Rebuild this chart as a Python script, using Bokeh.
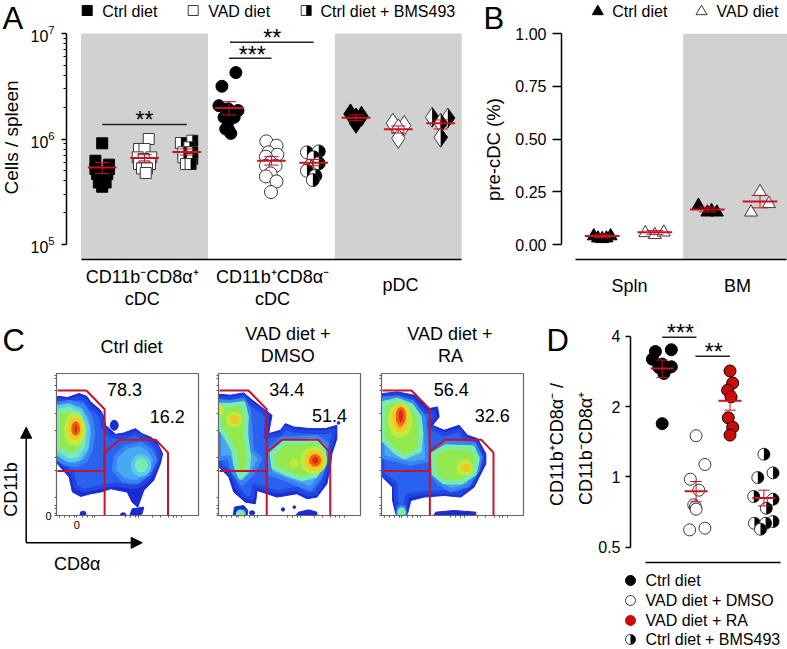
import math
import numpy as np
from bokeh.plotting import figure
from bokeh.models import Range1d, FixedTicker, LogTickFormatter, Label, Arrow, NormalHead
from bokeh.embed import file_html
from bokeh.resources import INLINE

FONT = "Liberation Sans"
GRAY = "#D1D1D1"
RED = "#C8141E"
GATE = "#C4122F"
DRED = "#CC0A0A"
OUTL = "#3A3A3A"

# ---------- Panel A data (x = group position + jitter, y in millions of cells)
A_G1_X = [1.0, .84, 1.16, .84, 1.16, 1.0, .88, 1.12, 1.0, .92, 1.08, 1.0]
A_G1_Y = [.91, .622, .571, .519, .519, .483, .465, .465, .417, .387, .387, .353]
A_G2_X = [2.10, 1.87, 2.0, 1.84, 2.16, 1.98, 1.87, 2.13, 2.0, 1.94, 2.06, 2.03]
A_G2_Y = [1.0, .804, .804, .67, .67, .646, .579, .579, .55, .526, .526, .476]
A_G3_X = [3.13, 2.86, 3.06, 2.92, 3.13, 3.02, 2.92, 3.13, 2.98, 3.09]
A_G3_Y = [.964, .916, .833, .747, .747, .67, .67, .646, .579, .579]
A_G4_X = [4.16, 3.83, 3.76, 3.98, 4.21, 3.88, 4.12, 3.98, 3.92, 3.98, 4.04]
A_G4_Y = [4.26, 3.16, 2.07, 1.93, 1.86, 1.606, 1.606, 1.47, 1.244, 1.244, 1.13]
A_G5_X = [4.88, 5.12, 4.93, 5.14, 4.87, 4.98, 4.87, 5.10, 4.98, 4.87, 5.12, 4.99]
A_G5_Y = [.95, .864, .747, .71, .68, .6, .558, .558, .472, .442, .396, .314]
A_G6_X = [5.84, 6.12, 6.0, 5.92, 6.04, 5.84, 6.12, 6.04, 5.98]
A_G6_Y = [.747, .763, .67, .558, .558, .5, .588, .448, .408]
A_G7_X = [6.87, 7.13, 7.0, 7.0]
A_G7_Y = [1.727, 1.64, 1.58, 1.41]
A_G8_X = [7.87, 8.14, 8.0, 8.0]
A_G8_Y = [1.41, 1.34, 1.244, 1.015]
A_G9_X = [8.80, 9.17, 9.0, 9.0]
A_G9_Y = [1.606, 1.58, 1.41, 1.037]
A_POS = [1, 2, 3, 4, 5, 6, 7, 8, 9]
A_MEAN = [.538, .66, .753, 1.97, .622, .596, 1.594, 1.235, 1.41]
A_LOW = [.47, .6, .705, 1.69, .566, .558, 1.49, 1.14, 1.244]
A_HIGH = [.6, .71, .804, 2.26, .68, .64, 1.69, 1.33, 1.515]

# ---------- Panel B data
B_G1_X = [.84, 1.0, 1.16, .92, 1.08]
B_G1_Y = [.04, .027, .04, .03, .03]
B_G2_X = [1.82, 2.0, 2.17]
B_G2_Y = [.055, .046, .058]
B_G3_X = [2.83, 3.0, 3.18, 3.08]
B_G3_Y = [.185, .153, .153, .16]
B_G4_X = [3.83, 4.0, 4.17]
B_G4_Y = [.153, .25, .193]
B_POS = [1, 2, 3, 4]
B_MEAN = [.04, .058, .166, .204]
B_LOW = [.032, .048, .155, .174]
B_HIGH = [.05, .066, .178, .233]
B_TICKS = [0, .25, .5, .75, 1]

# ---------- Panel D data
D_G1_X = [.80, 1.27, .71, 1.0, 1.27, .90, 1.15, 1.05, 1.0]
D_G1_Y = [3.44, 3.5, 3.19, 3.04, 2.96, 2.94, 2.91, 2.77, 1.69]
D_G2_X = [2.0, 2.26, 1.83, 2.08, 1.93, 1.98, 2.0, 2.26, 1.81]
D_G2_Y = [1.5, 1.13, .977, .877, .759, .744, .727, .603, .593]
D_G3_X = [3.0, 3.08, 2.93, 3.03, 2.95, 3.08, 3.0]
D_G3_Y = [2.84, 2.52, 2.35, 2.2, 1.79, 1.63, 1.51]
D_G4_X = [4.0, 4.27, 3.82, 3.70, 4.27, 4.07, 3.72, 4.27, 4.05, 3.90]
D_G4_Y = [1.25, 1.04, .993, .824, .802, .734, .633, .644, .633, .597]
D_POS = [1, 2, 3, 4]
D_MEAN = [2.91, .868, 2.12, .813]
D_LOW = [2.66, .782, 1.93, .751]
D_HIGH = [3.16, .955, 2.31, .877]
D_TICKS = [.5, 1, 2, 4]

# ---------- Panel C gates and density outlines (units of the plot's arbitrary scale)
GATE1_X = [170, 257, 312, 312, 170]
GATE1_Y = [241, 241, 297, 482, 482]
GATE2_X = [312, 312, 358, 466, 503, 503]
GATE2_Y = [615, 425, 388, 388, 427, 615]

DEEP, BLUE, SKY, CYAN, GREEN, YEL, ORA, HOT = ("#1b2bd4", "#2a62f0", "#48a8f4", "#70f0d8",
                                              "#92e84c", "#e9ec30", "#f6981c", "#dc2a10")
EDGE = {DEEP: ("#1b2bd4", 1), BLUE: ("#2246e2", 4), SKY: ("#3884f2", 4), CYAN: ("#5cccE6", 4),
        GREEN: ("#78ecA8", 5), YEL: ("#c0ea3c", 5), ORA: ("#f2c826", 4), HOT: ("#ea6018", 3)}

C1_POLYS = [
 (DEEP, [(170,258),(200,262),(235,250),(258,258),(270,275),(300,300),(310,320),(315,345),(345,372),(370,368),(405,355),(425,370),(450,380),(470,395),(487,430),(480,460),(460,510),(430,540),(412,590),(395,575),(380,545),(330,535),(300,545),(270,550),(240,558),(215,545),(205,500),(170,460)]),
 (DEEP, [(388,615),(395,595),(430,590),(425,610),(415,615)]),
 (BLUE, [(170,268),(200,272),(235,262),(255,270),(270,290),(300,315),(305,345),(330,378),(370,380),(405,368),(425,380),(450,392),(470,410),(477,435),(465,470),(445,505),(420,525),(395,530),(340,522),(300,530),(250,540),(225,530),(215,490),(195,470),(170,450)]),
 (SKY, [(170,280),(210,275),(245,285),(270,320),(278,370),(270,420),(255,450),(225,465),(195,460),(170,445)]),
 (SKY, [(375,410),(420,400),(450,420),(465,450),(445,490),(410,515),(370,510),(340,480),(345,440)]),
 (CYAN, [(170,290),(205,285),(240,300),(262,350),(258,410),(235,445),(205,450),(170,430)]),
 (GREEN, [(170,305),(205,297),(235,312),(250,355),(245,405),(225,430),(200,430),(170,415)]),
]
C1_BLOBS = [
 (DEEP, 341, 345, 24, 30), (DEEP, 247, 610, 18, 16), (DEEP, 368, 612, 16, 10),
 (CYAN, 422, 465, 50, 55), (GREEN, 425, 462, 16, 20),
 (YEL, 222, 358, 50, 85), (ORA, 224, 356, 32, 56), (HOT, 225, 355, 18, 34),
]
C2_POLYS = [
 (DEEP, [(26,252),(60,255),(100,248),(120,265),(165,300),(185,315),(180,340),(175,370),(210,360),(225,340),(250,350),(300,355),(345,355),(380,345),(380,385),(365,430),(360,470),(350,520),(320,560),(290,565),(260,550),(200,560),(140,540),(135,580),(105,575),(70,545),(55,500),(26,470)]),
 (DEEP, [(68,615),(72,590),(100,585),(112,600),(110,615)]),
 (DEEP, [(255,615),(265,605),(295,598),(320,605),(320,615)]),
 (BLUE, [(26,262),(60,265),(100,258),(115,275),(155,305),(170,318),(168,345),(165,380),(210,372),(225,352),(250,362),(300,365),(345,365),(370,360),(368,385),(355,430),(350,470),(340,510),(315,550),(290,552),(260,535),(200,545),(130,525),(125,565),(105,560),(80,535),(65,495),(26,460)]),
 (SKY, [(26,272),(60,275),(100,268),(115,300),(120,350),(125,420),(150,445),(125,490),(95,520),(70,490),(55,440),(26,445)]),
 (SKY, [(175,420),(215,385),(320,380),(350,400),(345,460),(330,500),(300,535),(260,520),(220,505),(180,490)]),
 (SKY, [(80,615),(85,603),(100,603),(102,615)]),
 (GREEN, [(26,285),(60,285),(98,280),(108,320),(105,370),(115,440),(110,480),(90,500),(78,470),(70,420),(45,375),(26,350)]),
 (GREEN, [(185,430),(225,395),(315,392),(340,410),(340,455),(315,495),(275,505),(230,490),(190,470)]),
]
C2_BLOBS = [
 (DEEP, 218, 597, 10, 10), (DEEP, 252, 590, 8, 8), (DEEP, 385, 338, 8, 8), (DEEP, 125, 607, 16, 12),
 (GREEN, 90, 610, 12, 10),
 (YEL, 72, 328, 34, 32), (ORA, 72, 328, 14, 14), (YEL, 28, 300, 10, 18),
 (YEL, 310, 450, 66, 68), (ORA, 312, 450, 46, 48), (HOT, 315, 450, 26, 28), (YEL, 252, 458, 14, 12),
]
C3_POLYS = [
 (DEEP, [(515,250),(560,245),(610,255),(655,295),(680,290),(685,320),(665,345),(700,360),(745,345),(770,375),(800,385),(825,430),(825,460),(790,530),(750,560),(700,555),(640,560),(600,570),(590,610),(555,610),(545,570),(545,530),(515,500)]),
 (DEEP, [(668,615),(675,605),(730,600),(795,605),(795,615)]),
 (BLUE, [(515,258),(560,255),(605,265),(645,305),(668,305),(672,318),(650,345),(700,372),(745,358),(765,385),(795,395),(815,435),(815,455),(785,520),(745,550),(700,545),(640,548),(590,555),(580,600),(560,600),(555,560),(555,520),(515,490)]),
 (SKY, [(515,265),(560,262),(605,275),(640,320),(645,380),(650,450),(600,460),(560,450),(515,440)]),
 (SKY, [(665,425),(700,395),(790,400),(810,440),(800,480),(770,525),(720,540),(680,515),(660,480)]),
 (SKY, [(560,615),(565,590),(580,590),(585,615)]),
 (GREEN, [(515,280),(560,270),(600,285),(625,320),(630,370),(625,420),(580,440),(550,420),(515,385)]),
 (GREEN, [(668,430),(705,410),(785,412),(800,445),(790,490),(750,515),(700,515),(670,490)]),
]
C3_BLOBS = [
 (GREEN, 572, 605, 10, 14),
 (YEL, 568, 330, 58, 92), (ORA, 568, 325, 38, 72), (HOT, 570, 318, 22, 46),
 (YEL, 762, 472, 36, 34), (ORA, 765, 472, 16, 14),
]
C_XTICKS = [175, 190, 205, 220, 228, 245, 260, 275, 283, 375, 390, 405, 415, 455, 480, 505, 520, 530, 545]
C_YTICKS = [195, 205, 225, 240, 310, 360, 440, 480, 560, 585, 595, 608, 615]


def place(left, top):
    return {"position": "absolute", "left": f"{left}px", "top": f"{top}px"}


def clean(p):
    p.grid.visible = False
    p.outline_line_color = None
    p.background_fill_color = None
    p.border_fill_color = None


def style_y(ax, out):
    ax.axis_line_color = "black"
    ax.axis_line_width = 1.5
    ax.major_tick_line_color = "black"
    ax.major_tick_line_width = 1.5
    ax.major_tick_out = out
    ax.major_tick_in = 0
    ax.minor_tick_line_color = "black"
    ax.minor_tick_out = 3
    ax.minor_tick_in = 0
    ax.major_label_text_font = FONT
    ax.major_label_text_font_size = "16px"
    ax.major_label_text_color = "black"


def style_x(ax, lo, hi):
    ax.bounds = (lo, hi)
    ax.axis_line_color = "black"
    ax.axis_line_width = 1.5
    ax.major_tick_line_color = None
    ax.minor_tick_line_color = None


def means(p, pos, mean, low, high, hw, cw, ys=1.0):
    pos = np.array(pos, float)
    m, lo, hi = np.array(mean) * ys, np.array(low) * ys, np.array(high) * ys
    p.segment(pos, lo, pos, hi, color=RED, line_width=1)
    p.segment(pos - cw, hi, pos + cw, hi, color=RED, line_width=1)
    p.segment(pos - cw, lo, pos + cw, lo, color=RED, line_width=1)
    p.segment(pos - hw, m, pos + hw, m, color=RED, line_width=2)


# ======================= Panel A
Ax = lambda px: 1 + (px - 101.7) / 42.3
Ay = lambda py: 1e5 * 10 ** ((244 - py) / 105.5)
a = figure(width=465, height=308, y_axis_type="log", output_backend="svg", toolbar_location=None,
           x_range=Range1d(Ax(66), Ax(462)), y_range=Range1d(Ay(259), Ay(25)),
           min_border_left=66, min_border_right=3, min_border_top=25, min_border_bottom=49, styles=place(0, 0))
clean(a)
style_y(a.yaxis[0], 5)
a.yaxis[0].ticker = FixedTicker(ticks=[1e5, 1e6, 1e7],
                                minor_ticks=[m * 10 ** e for e in (5, 6) for m in range(2, 10)])
a.yaxis[0].formatter = LogTickFormatter()
a.yaxis[0].bounds = (1e5, 1e7)
a.yaxis[0].major_label_standoff = 7
a.xaxis[0].ticker = FixedTicker(ticks=[])
style_x(a.xaxis[0], .5, 9.5)
a.quad(left=[.5, 6.5], right=[3.5, 9.5], top=[1e7, 1e7], bottom=[Ay(259)] * 2, fill_color=GRAY, line_color=None)

SQ = 11
DM = 20


def half_square(p, x, y, s, fx, fy):
    dx = (s / 2) * abs(fx(1) - fx(0))
    ru, rd = fy(-s / 2) / fy(0), fy(s / 2) / fy(0)
    p.scatter([x], [y], marker="square", size=s, fill_color="white", line_color=OUTL, line_width=1)
    p.patch([x, x + dx, x + dx, x], [y * rd, y * rd, y * ru, y * ru], fill_color="black", line_color=None)


def half_diamond(p, x, y, s, fx, fy):
    dx = (s * .75 / 2) * abs(fx(1) - fx(0))
    ru, rd = fy(-s / 2) / fy(0), fy(s / 2) / fy(0)
    p.scatter([x], [y], marker="diamond", size=s, fill_color="white", line_color=OUTL, line_width=1)
    p.patch([x, x + dx, x], [y * rd, y, y * ru], fill_color="black", line_color=None)


a.scatter(A_G1_X, np.array(A_G1_Y) * 1e6, marker="square", size=SQ, color="black")
a.scatter(A_G2_X, np.array(A_G2_Y) * 1e6, marker="square", size=SQ, fill_color="white", line_color=OUTL, line_width=1)
for x, y in zip(A_G3_X, np.array(A_G3_Y) * 1e6):
    half_square(a, x, y, SQ, Ax, Ay)
a.scatter(A_G4_X, np.array(A_G4_Y) * 1e6, marker="circle", size=12, color="black")
a.scatter(A_G5_X, np.array(A_G5_Y) * 1e6, marker="circle", size=13, fill_color="white", line_color=OUTL, line_width=1)
for x, y in zip(A_G6_X, np.array(A_G6_Y) * 1e6):
    a.scatter([x], [y], marker="circle", size=13, fill_color="white", line_color=OUTL, line_width=1)
    a.wedge([x], [y], radius=6.5, radius_units="screen", start_angle=-math.pi / 2, end_angle=math.pi / 2,
            fill_color="black", line_color=None)
a.scatter(A_G7_X, np.array(A_G7_Y) * 1e6, marker="diamond", size=DM, color="black")
a.scatter(A_G8_X, np.array(A_G8_Y) * 1e6, marker="diamond", size=DM, fill_color="white", line_color=OUTL, line_width=1)
for x, y in zip(A_G9_X, np.array(A_G9_Y) * 1e6):
    half_diamond(a, x, y, DM, Ax, Ay)
means(a, A_POS, A_MEAN, A_LOW, A_HIGH, .34, .17, 1e6)
a.segment([1, 4, 4.02], [Ay(124), Ay(57.7), Ay(41.7)], [3, 5, 6], [Ay(124), Ay(57.7), Ay(41.7)], color="#222222", line_width=1.5)

# ======================= Panel B
Bx = lambda px: 1 + (px - 601.7) / 52.6
By = lambda py: (244 - py) / 210.7
b = figure(width=322, height=308, output_backend="svg", toolbar_location=None,
           x_range=Range1d(Bx(561), Bx(787)), y_range=Range1d(By(259), By(25)),
           min_border_left=96, min_border_right=0, min_border_top=25, min_border_bottom=49, styles=place(465, 0))
clean(b)
style_y(b.yaxis[0], 9)
b.yaxis[0].ticker = FixedTicker(ticks=B_TICKS)
b.yaxis[0].major_label_overrides = {t: f"{t:.2f}" for t in B_TICKS}
b.yaxis[0].bounds = (0, 1)
b.yaxis[0].major_label_standoff = 6
bx_ax = b.xaxis[0]
bx_ax.ticker = FixedTicker(ticks=[1.52, 3.57])
bx_ax.major_label_overrides = {1.52: "Spln", 3.57: "BM"}
bx_ax.major_label_text_font = FONT
bx_ax.major_label_text_font_size = "18px"
bx_ax.major_label_text_color = "black"
bx_ax.major_label_standoff = 10
style_x(bx_ax, .5, 4.5)
b.quad(left=[2.54], right=[4.6], top=[1], bottom=[By(259)], fill_color=GRAY, line_color=None)
TR = 13
b.scatter(B_G1_X, B_G1_Y, marker="triangle", size=TR, color="black")
b.scatter(B_G2_X, B_G2_Y, marker="triangle", size=TR, fill_color="white", line_color=OUTL)
b.scatter(B_G3_X, B_G3_Y, marker="triangle", size=TR, color="black")
b.scatter(B_G4_X, B_G4_Y, marker="triangle", size=TR, fill_color="white", line_color=OUTL)
means(b, B_POS, B_MEAN, B_LOW, B_HIGH, .33, .16)


# ======================= Panel C
def flow(left, width, left_border, right_border, xr, polys, blobs, gate_dx, show_zero=False):
    p = figure(width=width, height=341, output_backend="svg", toolbar_location=None,
               x_range=Range1d(*xr), y_range=Range1d(615, 190),
               min_border_left=left_border, min_border_right=right_border,
               min_border_top=65, min_border_bottom=134, styles=place(left, 308))
    p.grid.visible = False
    p.outline_line_color = "#666666"
    p.outline_line_width = 1.2
    p.background_fill_color = "white"
    p.border_fill_color = None
    for color, pts in polys:
        ec, ew = EDGE[color]
        p.patch([q[0] for q in pts], [q[1] for q in pts], fill_color=color, line_color=ec, line_width=ew, line_join="round")
    for color, x, y, w, h in blobs:
        ec, ew = EDGE[color]
        p.ellipse([x], [y], width=w, height=h, fill_color=color, line_color=ec, line_width=ew)
    p.line(np.array(GATE1_X) + gate_dx, GATE1_Y, color=GATE, line_width=2)
    p.line(np.array(GATE2_X) + gate_dx, GATE2_Y, color=GATE, line_width=2)
    xt = [t + gate_dx for t in C_XTICKS]
    for ax, ticks in ((p.xaxis[0], xt), (p.yaxis[0], C_YTICKS)):
        ax.ticker = FixedTicker(ticks=ticks)
        ax.axis_line_color = "#666666"
        ax.major_tick_line_color = "#555555"
        ax.major_tick_out = 2
        ax.major_tick_in = 0
        ax.minor_tick_line_color = None
        ax.major_label_text_font = FONT
        ax.major_label_text_font_size = "11px"
        ax.major_label_text_color = "black"
        ax.major_label_standoff = 3
        ax.major_label_overrides = {t: "" for t in ticks}
    if show_zero:
        p.xaxis[0].major_label_overrides = {**{t: "" for t in xt}, 228: "0"}
        p.yaxis[0].major_label_overrides = {**{t: "" for t in C_YTICKS}, 615: "0"}
    return p


c1 = flow(0, 208, 56, 10, (167, 595), C1_POLYS, C1_BLOBS, 0, True)
c2 = flow(208, 162, 10, 10, (24, 451), C2_POLYS, C2_BLOBS, -143)
c3 = flow(370, 160, 11, 7, (512, 938), C3_POLYS, C3_BLOBS, 345)

# ======================= Panel D
Dx = lambda px: 1 + (px - 661.7) / 33.9
Dp = lambda py: .5 * 2 ** ((546.7 - py) / 70.33)
d = figure(width=257, height=341, y_axis_type="log", output_backend="svg", toolbar_location=None,
           x_range=Range1d(Dx(630), Dx(787)), y_range=Range1d(Dp(562), Dp(328)),
           min_border_left=100, min_border_right=0, min_border_top=20, min_border_bottom=87, styles=place(530, 308))
clean(d)
d.xaxis[0].ticker = FixedTicker(ticks=[])
style_x(d.xaxis[0], Dx(645), Dx(780))
style_y(d.yaxis[0], 5)
d.yaxis[0].ticker = FixedTicker(ticks=D_TICKS)
d.yaxis[0].major_label_overrides = {.5: "0.5", 1: "1", 2: "2", 4: "4"}
d.yaxis[0].bounds = (.5, 4)
d.yaxis[0].major_label_standoff = 5
R = 12
for x, y in zip(D_G1_X, D_G1_Y):
    d.scatter([x], [y], marker="circle", size=R, color="black")
d.scatter(D_G2_X, D_G2_Y, marker="circle", size=R, fill_color="white", line_color=OUTL)
d.scatter(D_G3_X, D_G3_Y, marker="circle", size=R, fill_color=DRED, line_color="black")
for x, y in zip(D_G4_X, D_G4_Y):
    d.scatter([x], [y], marker="circle", size=R, fill_color="white", line_color=OUTL)
    d.wedge([x], [y], radius=R / 2, radius_units="screen", start_angle=-math.pi / 2, end_angle=math.pi / 2,
            fill_color="black", line_color=None)
means(d, D_POS, D_MEAN, D_LOW, D_HIGH, .34, .17)
d.segment([1, 1.98], [Dp(336.7), Dp(355.7)], [2.01, 3], [Dp(336.7), Dp(355.7)], color="#222222", line_width=1.5)

# ======================= Texts and keys, on a transparent sheet the size of the page
ov = figure(width=787, height=649, output_backend="svg", toolbar_location=None, x_axis_location=None, y_axis_location=None,
            x_range=Range1d(0, 787), y_range=Range1d(649, 0), min_border_left=0, min_border_right=0,
            min_border_top=0, min_border_bottom=0, styles=place(0, 0))
clean(ov)


def txt(x, y, s, size=16, align="left", angle=0):
    ov.add_layout(Label(x=x, y=y, text=s, text_font=FONT, text_font_size=f"{size}px", text_align=align,
                        text_baseline="middle", angle=angle, angle_units="deg", text_color="black"))


def stars(x, y, s):
    txt(x, y + 3, s, 23, "center")


def z3(x, y):
    return x / 3, 310 + y / 3


def z4(x, y):
    return 210 + x / 3, 310 + y / 3


# Panel A texts
txt(2, 18, "A", 31)
txt(11, 137, "Cells / spleen", 19, "center", 90)
txt(141.7, 276.5, "CD11b\u207bCD8\u03b1\u207a", 18, "center")
txt(141.7, 298, "cDC", 18, "center")
txt(272, 276.5, "CD11b\u207aCD8\u03b1\u207b", 18, "center")
txt(272, 298, "cDC", 18, "center")
txt(400, 284, "pDC", 18, "center")
stars(144, 116.7, "**")
stars(251.7, 51, "***")
stars(271.7, 34, "**")
txt(101.7, 10.5, "Ctrl diet")
txt(207.7, 10.5, "VAD diet")
txt(320, 10.5, "Ctrl diet + BMS493")
ov.scatter([86.7], [10], marker="square", size=10, color="black")
ov.scatter([192.7], [10], marker="square", size=10, fill_color="white", line_color=OUTL)
ov.scatter([305.7], [10], marker="square", size=10, fill_color="white", line_color=OUTL)
ov.quad(left=[305.7], right=[310.7], top=[5], bottom=[15], fill_color="black", line_color=None)

# Panel B texts
txt(483, 18, "B", 31)
txt(492.7, 149, "pre-cDC (%)", 18.5, "center", 90)
txt(611.7, 10.5, "Ctrl diet")
txt(716, 10.5, "VAD diet")
ov.scatter([597.3], [11], marker="triangle", size=11, color="black")
ov.scatter([701], [11], marker="triangle", size=11, fill_color="white", line_color=OUTL)

# Panel C texts
txt(2, 340, "C", 31)
txt(*z3(393, 110), "Ctrl diet", 18, "center")
txt(*z3(372, 237), "78.3", 18, "center")
txt(*z3(500, 318), "16.2", 18, "center")
txt(*z4(232, 70), "VAD diet +", 18, "center")
txt(*z4(232, 137), "DMSO", 18, "center")
txt(*z4(229, 237), "34.4", 18, "center")
txt(*z4(357, 316), "51.4", 18, "center")
txt(*z4(718, 70), "VAD diet +", 18, "center")
txt(*z4(720, 137), "RA", 18, "center")
txt(*z4(722, 237), "56.4", 18, "center")
txt(*z4(845, 316), "32.6", 18, "center")
txt(10.5, 489, "CD11b", 18, "center", 90)
txt(76.7, 563, "CD8\u03b1", 18, "center")
for xe, ye in ((25.7, 426.7), (141.7, 542.3)):
    ov.add_layout(Arrow(x_start=25.7, y_start=542.3, x_end=xe, y_end=ye, line_color="black", line_width=1.5,
                        end=NormalHead(size=11, fill_color="black", line_color="black")))

# Panel D texts
txt(546, 340, "D", 31)
txt(556.7, 444, "CD11b\u207aCD8\u03b1\u207b /", 18, "center", 90)
txt(585, 448, "CD11b\u207bCD8\u03b1\u207a", 18, "center", 90)
stars(680, 329.3, "***")
stars(713.3, 348.3, "**")
LEG_Y = [580, 600, 620, 639]
LEG_T = ["Ctrl diet", "VAD diet + DMSO", "VAD diet + RA", "Ctrl diet + BMS493"]
for py, t in zip(LEG_Y, LEG_T):
    txt(645, py, t)
ov.scatter([630], [LEG_Y[0]], marker="circle", size=10, color="black")
ov.scatter([630], [LEG_Y[1]], marker="circle", size=10, fill_color="white", line_color=OUTL)
ov.scatter([630], [LEG_Y[2]], marker="circle", size=10, fill_color=DRED, line_color=DRED)
ov.scatter([630], [LEG_Y[3]], marker="circle", size=10, fill_color="white", line_color=OUTL)
ov.wedge([630], [LEG_Y[3]], radius=5, radius_units="screen", start_angle=-math.pi / 2, end_angle=math.pi / 2,
         fill_color="black", line_color=None)

open("out.html", "w").write(file_html([a, b, c1, c2, c3, d, ov], INLINE))
